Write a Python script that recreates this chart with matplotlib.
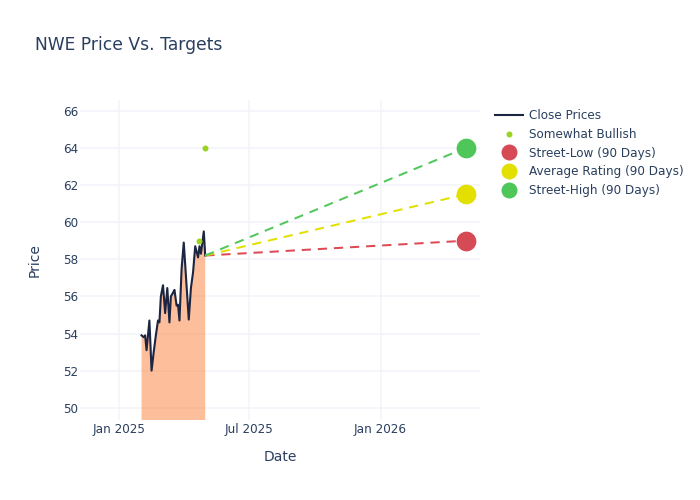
import matplotlib
matplotlib.use("Agg")
import matplotlib.pyplot as plt
import pandas as pd
from matplotlib.lines import Line2D

close_dates = ["2025-02-01","2025-02-04","2025-02-06","2025-02-08","2025-02-12","2025-02-15","2025-02-18",
               "2025-02-21","2025-02-24","2025-02-26","2025-02-28","2025-03-03","2025-03-06","2025-03-09",
               "2025-03-12","2025-03-14","2025-03-17","2025-03-19","2025-03-22","2025-03-24","2025-03-26",
               "2025-03-29","2025-04-01","2025-04-08","2025-04-11","2025-04-14","2025-04-17","2025-04-21",
               "2025-04-23","2025-04-25","2025-04-29","2025-05-01"]
close_prices = [53.9,53.8,53.9,53.1,54.7,52.0,53.0,
                53.9,54.7,54.6,56.0,56.6,55.1,56.45,
                54.6,56.0,56.2,56.35,55.5,55.55,54.7,
                57.5,58.9,54.75,56.45,57.3,58.7,58.1,
                58.7,58.3,59.5,58.2]

bullish_dates = ["2025-04-22", "2025-05-01"]
bullish_values = [59.0, 64.0]

forecast_start = "2025-05-01"
forecast_base = 58.2
target_date = "2026-04-30"
target_names = ["Street-Low (90 Days)", "Average Rating (90 Days)", "Street-High (90 Days)"]
target_values = [59.0, 61.5, 64.0]
target_line_colors = ["#dc4b55", "#e2e000", "#52c75b"]
target_dot_colors = ["#d64a56", "#e3e000", "#4fc65a"]

yticks = [50, 52, 54, 56, 58, 60, 62, 64, 66]
xtick_dates = ["2025-01-01", "2025-07-01", "2026-01-01"]
xtick_labels = ["Jan 2025", "Jul 2025", "Jan 2026"]

TEXT = "#2a3f5f"
GRID = "#f1f4fa"
plt.rcParams["font.family"] = "DejaVu Sans"

fig = plt.figure(figsize=(7, 5), dpi=100)
ax = fig.add_axes([80/700, 80/500, 400/700, 320/500])

d = pd.to_datetime(close_dates)
ax.fill_between(d, close_prices, 0, color="#fd7f38", alpha=0.5, lw=0, zorder=2)
ax.plot(d, close_prices, color="#1c2541", lw=1.5, zorder=3)

for v, lc in zip(target_values, target_line_colors):
    ax.plot(pd.to_datetime([forecast_start, target_date]), [forecast_base, v],
            color=lc, lw=1.45, dashes=(4.6, 3.4), zorder=4)
for v, dc in zip(target_values, target_dot_colors):
    ax.plot(pd.to_datetime([target_date]), [v], "o", color=dc, ms=14.2, mew=0, zorder=5)
ax.plot(pd.to_datetime(bullish_dates), bullish_values, "o", color="#9ad420", ms=4.3, mew=0, zorder=5)

ax.set_xlim(pd.Timestamp("2024-11-07"), pd.Timestamp("2026-05-20"))
ax.set_ylim(49.34, 66.58)
ax.set_yticks(yticks)
ax.set_xticks(pd.to_datetime(xtick_dates))
ax.set_xticklabels(xtick_labels)
ax.grid(True, color=GRID, lw=1.1, zorder=0)
ax.set_axisbelow(True)
for s in ax.spines.values():
    s.set_visible(False)
ax.tick_params(axis="y", length=0, labelsize=8.64, labelcolor=TEXT, pad=1.5)
ax.tick_params(axis="x", length=0, labelsize=8.64, labelcolor=TEXT, pad=2.5)
ax.set_xlabel("Date", fontsize=10, color=TEXT, labelpad=10)
ax.set_ylabel("Price", fontsize=10, color=TEXT, labelpad=15.5)

fig.text(35/700, 1 - 50/500, "NWE Price Vs. Targets", fontsize=12.3, color=TEXT, ha="left", va="baseline")

handles = [Line2D([], [], color="#1c2541", lw=1.5),
           Line2D([], [], ls="", marker="o", color="#9ad420", ms=4.3, mew=0)]
handles += [Line2D([], [], ls="", marker="o", color=c, ms=11.5, mew=0) for c in target_dot_colors]
labels = ["Close Prices", "Somewhat Bullish"] + target_names
fig.legend(handles, labels, loc="upper left", bbox_to_anchor=(495/700, 1 - 109/500), frameon=False,
           fontsize=8.64, labelcolor=TEXT, handlelength=2.3, handletextpad=0.55, labelspacing=0.48,
           borderpad=0, borderaxespad=0)

fig.savefig("out.png", dpi=100)
